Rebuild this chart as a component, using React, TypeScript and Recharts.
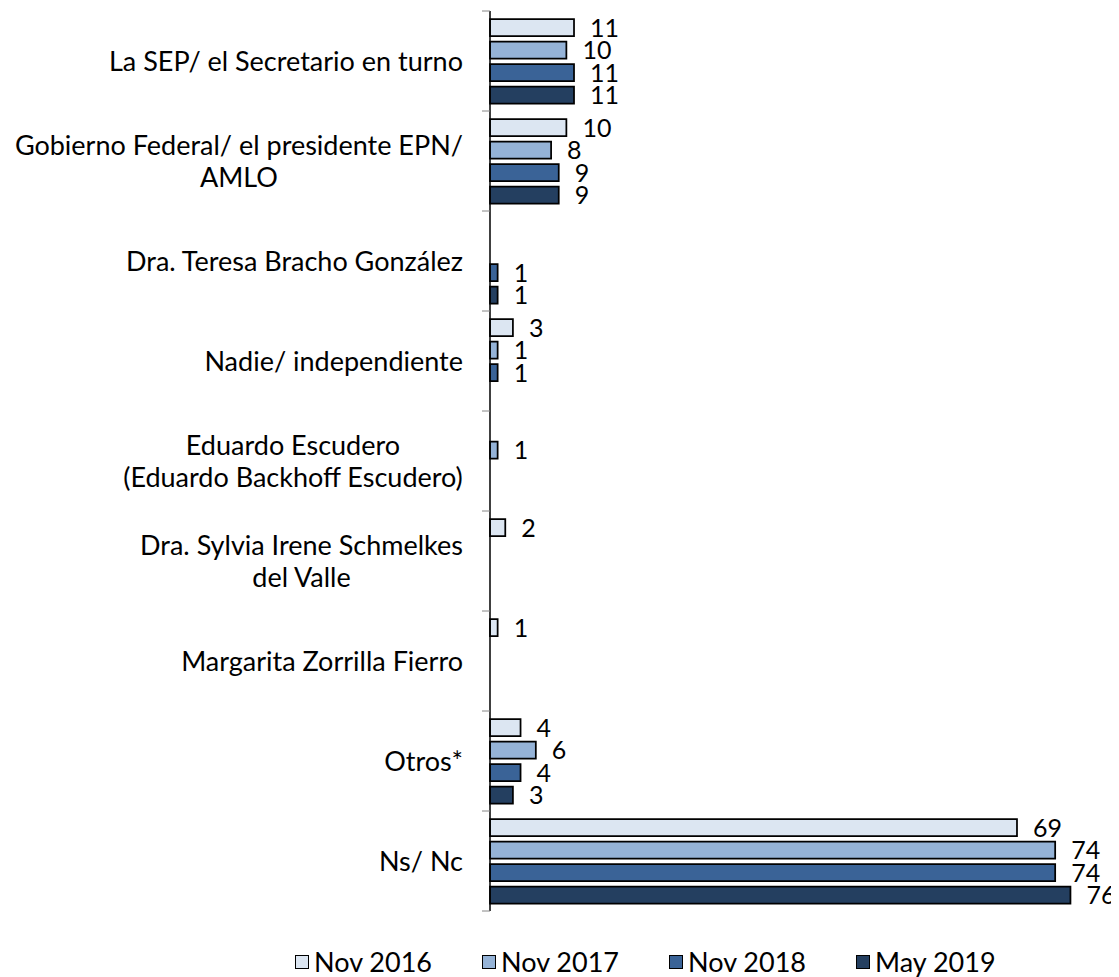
import { BarChart, Bar, XAxis, YAxis, Legend, LabelList } from 'recharts';

// Categories (multi-line labels split with \n)
const categories = [
  'La SEP/ el Secretario en turno',
  'Gobierno Federal/ el presidente EPN/\nAMLO',
  'Dra. Teresa Bracho González',
  'Nadie/ independiente',
  'Eduardo Escudero\n(Eduardo Backhoff Escudero)',
  'Dra. Sylvia Irene Schmelkes\ndel Valle',
  'Margarita Zorrilla Fierro',
  'Otros*',
  'Ns/ Nc',
];

// Series values (null = not reported in that wave)
const nov2016 = [11, 10, null, 3, null, 2, 1, 4, 69];
const nov2017 = [10, 8, null, 1, 1, null, null, 6, 74];
const nov2018 = [11, 9, 1, 1, null, null, null, 4, 74];
const may2019 = [11, 9, 1, null, null, null, null, 3, 76];

const seriesNames = ['Nov 2016', 'Nov 2017', 'Nov 2018', 'May 2019'];
const seriesKeys = ['s2016', 's2017', 's2018', 's2019'];
const seriesColors = ['#dce6f2', '#95b3d7', '#3a6397', '#243f60'];

const data = categories.map((name, i) => ({
  name,
  s2016: nov2016[i],
  s2017: nov2017[i],
  s2018: nov2018[i],
  s2019: may2019[i],
}));

const FONT = 'Lato, "Open Sans", sans-serif';
const LABEL_SIZE = 27;
const CHART_W = 1111;
const CHART_H = 969;
const MARGIN = { top: 3, right: 18, bottom: 66, left: 0 };
const AXIS_W = 482;
const LABEL_GAP = 27;
const BAND = (CHART_H - MARGIN.top - MARGIN.bottom) / categories.length;

// measure text width so wrapped labels can be centred inside a right-aligned block
const ctx = document.createElement('canvas').getContext('2d');
const textWidth = (s: string) => {
  if (!ctx) return s.length * 12;
  ctx.font = `${LABEL_SIZE}px Lato`;
  return ctx.measureText(s).width;
};

// Category label + Excel-style tick marks at band boundaries
const CategoryTick = (props: any) => {
  const { x, y, payload, index } = props;
  const lines = String(payload.value).split('\n');
  const lineH = 32;
  const axisX = x + LABEL_GAP;
  const startY = y - ((lines.length - 1) * lineH) / 2 + 10;
  const blockW = Math.max(...lines.map(textWidth));
  const cx = lines.length > 1 ? x - blockW / 2 : x;
  return (
    <g>
      <line x1={axisX - 8} x2={axisX} y1={y - BAND / 2} y2={y - BAND / 2} stroke="#868686" strokeWidth={1} />
      {index === categories.length - 1 && (
        <line x1={axisX - 8} x2={axisX} y1={y + BAND / 2} y2={y + BAND / 2} stroke="#868686" strokeWidth={1} />
      )}
      <text
        x={cx}
        y={startY}
        textAnchor={lines.length > 1 ? 'middle' : 'end'}
        fontFamily={FONT}
        fontSize={LABEL_SIZE}
        fill="#000"
      >
        {lines.map((ln, k) => (
          <tspan key={k} x={cx} dy={k === 0 ? 0 : lineH}>
            {ln}
          </tspan>
        ))}
      </text>
    </g>
  );
};

const ValueLabel = (props: any) => {
  const { x, y, width, height, value } = props;
  if (value === null || value === undefined) return null;
  return (
    <text x={x + width + 16} y={y + height / 2 + 9} fontFamily={FONT} fontSize={25} fill="#000">
      {value}
    </text>
  );
};

const LegendContent = () => (
  <div style={{ display: 'flex', fontFamily: FONT, fontSize: LABEL_SIZE, color: '#000', lineHeight: '32px' }}>
    {seriesNames.map((n, i) => (
      <div key={n} style={{ display: 'flex', alignItems: 'center', width: i < 3 ? 187 : 'auto' }}>
        <span
          style={{
            display: 'inline-block',
            width: 12,
            height: 12,
            background: seriesColors[i],
            border: '1.5px solid #000',
            marginRight: 5,
          }}
        />
        <span>{n}</span>
      </div>
    ))}
  </div>
);

export default function App() {
  return (
    <BarChart
      width={CHART_W}
      height={CHART_H}
      data={data}
      layout="vertical"
      margin={MARGIN}
      barSize={17}
      barGap={5.5}
    >
      <XAxis type="number" domain={[0, 80]} hide />
      <YAxis
        type="category"
        dataKey="name"
        width={AXIS_W}
        axisLine={{ stroke: '#000', strokeWidth: 1.5 }}
        tickLine={false}
        tickSize={0}
        tickMargin={LABEL_GAP}
        interval={0}
        tick={<CategoryTick />}
      />
      <Legend
        verticalAlign="bottom"
        content={<LegendContent />}
        wrapperStyle={{ left: 287, top: 938, width: 'auto', height: 0, overflow: 'visible' }}
      />
      {seriesKeys.map((k, i) => (
        <Bar
          key={k}
          dataKey={k}
          name={seriesNames[i]}
          fill={seriesColors[i]}
          stroke="#000"
          strokeWidth={1.75}
          isAnimationActive={false}
        >
          <LabelList dataKey={k} content={<ValueLabel />} />
        </Bar>
      ))}
    </BarChart>
  );
}
